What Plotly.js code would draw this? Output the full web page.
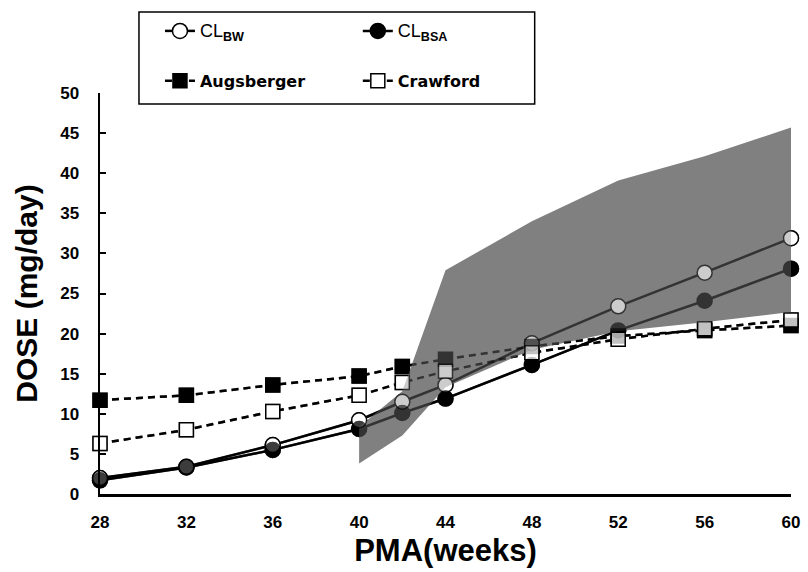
<!DOCTYPE html>
<html>
<head>
<meta charset="utf-8">
<script src="https://cdn.plot.ly/plotly-3.0.1.min.js"></script>
<style>html,body{margin:0;padding:0;background:#fff;}#chart{width:808px;height:572px;}</style>
</head>
<body>
<div id="chart"></div>
<script>
// ---- data ----
const pma        = [28, 32, 36, 40, 42, 44, 48, 52, 56, 60];
const clBW       = [2.0, 3.4, 6.1, 9.2, 11.5, 13.6, 18.8, 23.4, 27.6, 31.9];
const clBSA      = [1.7, 3.3, 5.5, 8.1, 10.1, 11.9, 16.1, 20.4, 24.1, 28.1];
const augsberger = [11.7, 12.3, 13.6, 14.7, 15.9, 16.8, 18.4, 19.7, 20.4, 21.0];
const crawford   = [6.3, 8.0, 10.3, 12.3, 13.9, 15.3, 17.6, 19.3, 20.6, 21.7];
const bandPMA    = [40, 42, 44, 48, 52, 56, 60];
const bandUpper  = [8.4, 12.8, 27.9, 34.0, 39.1, 42.1, 45.7];
const bandLower  = [3.8, 7.3, 13.3, 18.0, 20.3, 21.4, 22.7];
const xTicks     = [28, 32, 36, 40, 44, 48, 52, 56, 60];
const yTicks     = [0, 5, 10, 15, 20, 25, 30, 35, 40, 45, 50];

const names = {
  bw: '<span style="font-family:Liberation Sans;font-weight:normal;font-size:18px">CL<sub><b>BW</b></sub></span>',
  bsa: '<span style="font-family:Liberation Sans;font-weight:normal;font-size:18px">CL<sub><b>BSA</b></sub></span>',
  aug: '<b>Augsberger</b>',
  cra: '<b>Crawford</b>'
};

function series(y, name, legend, group, opts, overlay) {
  return Object.assign({
    x: pma, y: y, name: name, type: 'scatter', mode: 'lines+markers',
    legend: legend, legendgroup: group, showlegend: !overlay,
    opacity: overlay ? 0.6 : 1, cliponaxis: false, hoverinfo: 'skip'
  }, opts);
}

const styles = {
  bw:  {line: {color: '#000', width: 2.5}, marker: {symbol: 'circle', size: 15, color: '#fff', line: {color: '#000', width: 1.5}}},
  bsa: {line: {color: '#000', width: 2.5}, marker: {symbol: 'circle', size: 15, color: '#000', line: {color: '#000', width: 1.5}}},
  aug: {line: {color: '#000', width: 2.5, dash: '7px,5px'}, marker: {symbol: 'square', size: 14, color: '#000', line: {color: '#000', width: 1.5}}},
  cra: {line: {color: '#000', width: 2.5, dash: '7px,5px'}, marker: {symbol: 'square', size: 14, color: '#fff', line: {color: '#000', width: 1.5}}}
};

function allSeries(overlay) {
  return [
    series(clBW, names.bw, 'legend', 'g1', styles.bw, overlay),
    series(clBSA, names.bsa, 'legend2', 'g2', styles.bsa, overlay),
    series(augsberger, names.aug, 'legend', 'g3', styles.aug, overlay),
    series(crawford, names.cra, 'legend2', 'g4', styles.cra, overlay)
  ];
}

const band = {
  x: bandPMA.concat(bandPMA.slice().reverse()),
  y: bandUpper.concat(bandLower.slice().reverse()),
  type: 'scatter', mode: 'lines', fill: 'toself', fillcolor: '#808080',
  line: {width: 0, color: 'rgba(0,0,0,0)'}, showlegend: false, hoverinfo: 'skip'
};

const data = allSeries(false).concat([band]).concat(allSeries(true));

const L = 100, R = 16.5, T = 93, B = 78, W = 808, H = 572;
const pw = W - L - R, ph = H - T - B;
const px2x = p => (p - L) / pw;
const py2y = p => (H - B - p) / ph;

const legendFont = {family: 'DejaVu Sans', size: 16, color: '#000'};
const layout = {
  width: W, height: H,
  margin: {l: L, r: R, t: T, b: B, pad: 0},
  paper_bgcolor: '#fff', plot_bgcolor: '#fff',
  font: {family: 'Liberation Sans', color: '#000'},
  xaxis: {
    range: [28, 60], tickvals: xTicks, ticks: '', showgrid: false, zeroline: false,
    showline: true, linecolor: '#000', linewidth: 2.5,
    tickfont: {family: 'Liberation Sans', size: 17, weight: 'bold', color: '#000'},
    ticklabelstandoff: 11,
    title: {text: '<b>PMA(weeks)</b>', font: {family: 'Liberation Sans', size: 31, color: '#000'}, standoff: 9}
  },
  yaxis: {
    range: [0, 50], tickvals: yTicks, ticks: 'inside', ticklen: 6, tickwidth: 2, tickcolor: '#000',
    showgrid: false, zeroline: false, showline: true, linecolor: '#000', linewidth: 2.5,
    tickfont: {family: 'Liberation Sans', size: 17, weight: 'bold', color: '#000'},
    ticklabelstandoff: 15,
    title: {text: '<b>DOSE (mg/day)</b>', font: {family: 'Liberation Sans', size: 30, color: '#000'}, standoff: 14}
  },
  legend: {
    x: px2x(160), y: py2y(14), xanchor: 'left', yanchor: 'top',
    bgcolor: 'rgba(0,0,0,0)', borderwidth: 0, font: legendFont, tracegroupgap: 26,
    orientation: 'v'
  },
  legend2: {
    x: px2x(358), y: py2y(14), xanchor: 'left', yanchor: 'top',
    bgcolor: 'rgba(0,0,0,0)', borderwidth: 0, font: legendFont, tracegroupgap: 26,
    orientation: 'v'
  },
  shapes: [{
    type: 'rect', xref: 'paper', yref: 'paper',
    x0: px2x(139), x1: px2x(535), y0: py2y(104), y1: py2y(12),
    line: {color: '#000', width: 1.5}, fillcolor: 'rgba(0,0,0,0)'
  }],
  showlegend: true
};

Plotly.newPlot('chart', data, layout, {staticPlot: true, displayModeBar: false});
</script>
</body>
</html>
